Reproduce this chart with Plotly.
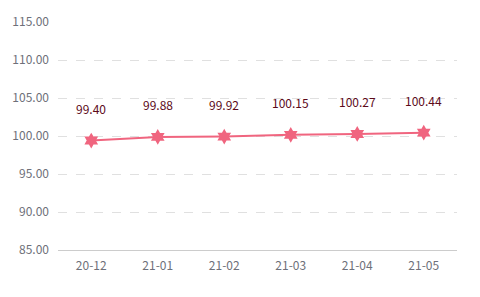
import plotly.graph_objects as go

categories = ["20-12", "21-01", "21-02", "21-03", "21-04", "21-05"]
values = [99.40, 99.88, 99.92, 100.15, 100.27, 100.44]
y_ticks = [85, 90, 95, 100, 105, 110, 115]

font = "Noto Sans CJK SC, Noto Sans, sans-serif"
fig = go.Figure()
fig.add_trace(go.Scatter(
    x=categories, y=values, mode="lines+markers",
    line=dict(color="#f0657f", width=2),
    marker=dict(symbol="hexagram", size=12, color="#f0657f", line=dict(width=0)),
    hoverinfo="skip",
))
for c, v in zip(categories, values):
    fig.add_annotation(x=c, y=v, text=f"{v:.2f}", showarrow=False, yshift=32,
                       font=dict(family=font, size=12, color="#5c0a1a"))

fig.update_layout(
    width=480, height=297,
    margin=dict(l=57, r=23, t=15, b=47),
    paper_bgcolor="white", plot_bgcolor="white",
    showlegend=False,
    font=dict(family=font, size=12, color="#6e7079"),
)
fig.update_xaxes(
    type="category", range=[-0.5, 5.5],
    showline=True, linecolor="#cccccc", linewidth=1,
    showgrid=False, ticks="", ticklen=0, ticklabelstandoff=5,
    tickfont=dict(size=12, color="#6e7079"),
)
fig.update_yaxes(
    range=[85, 115], tickvals=y_ticks, ticktext=[f"{t:.2f}" for t in y_ticks],
    showgrid=True, gridcolor="#e0e0e0", griddash="dash", gridwidth=1,
    zeroline=False, showline=False, ticks="", ticklabelstandoff=8,
    tickfont=dict(size=12, color="#6e7079"),
)
fig.write_html("out.html")
